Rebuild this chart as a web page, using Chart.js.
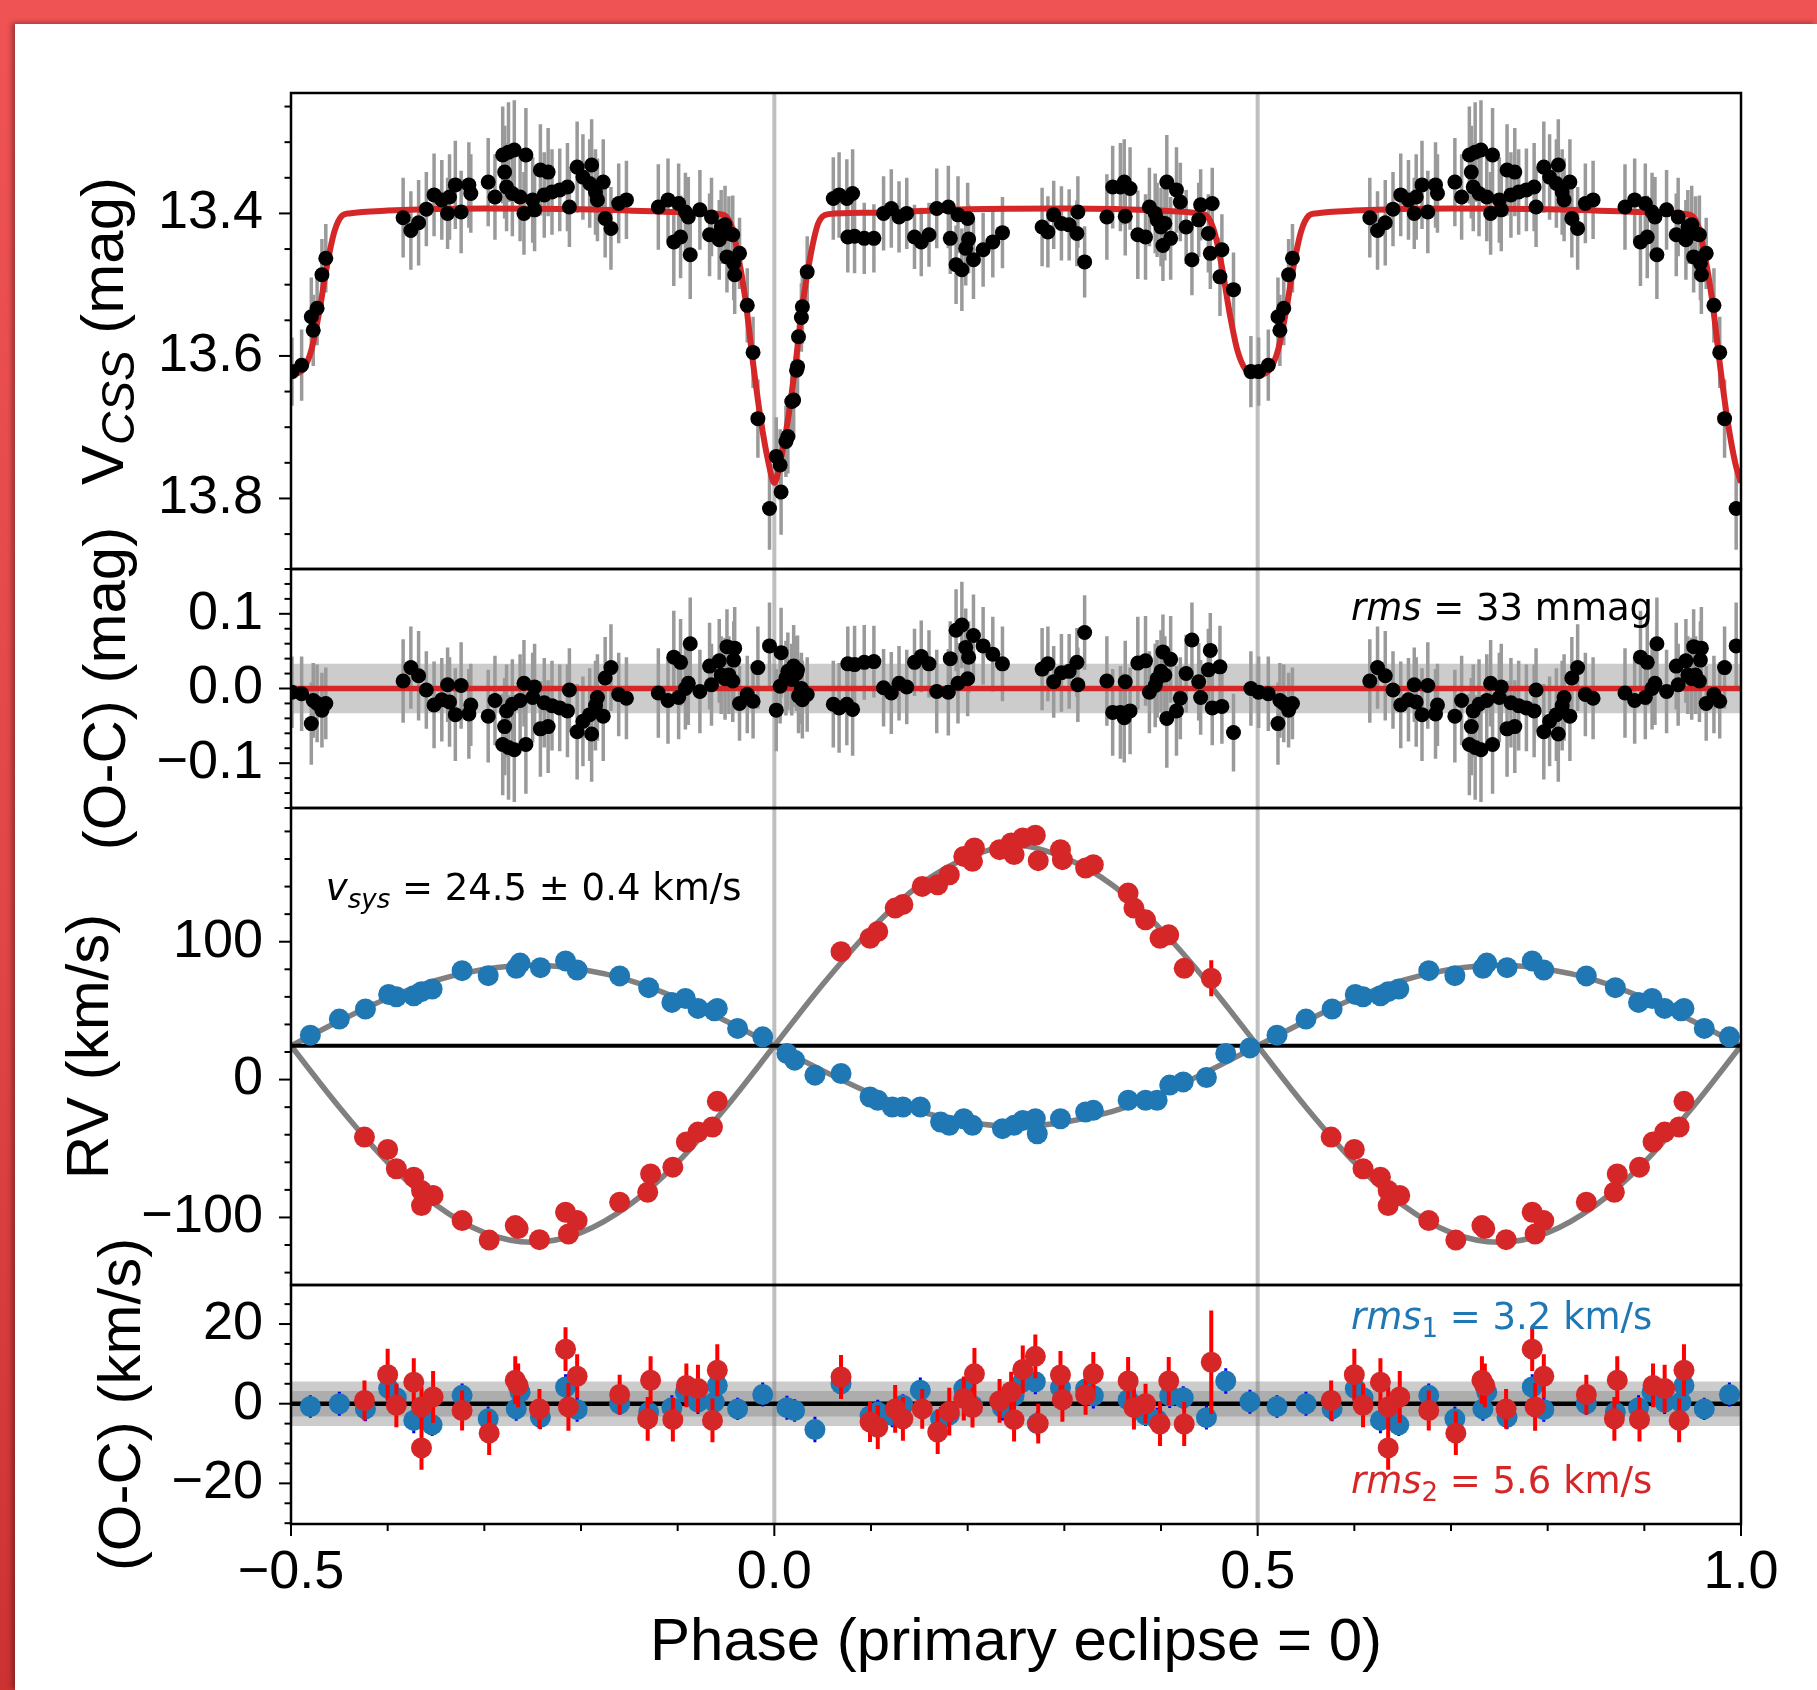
<!DOCTYPE html>
<html>
<head>
<meta charset="utf-8">
<title>Light curve and radial velocities</title>
<script src="https://cdn.jsdelivr.net/npm/chart.js@4.4.1/dist/chart.umd.min.js"></script>
<style>
  html, body { margin: 0; padding: 0; }
  body { width: 1817px; height: 1690px; overflow: hidden; position: relative;
         background: linear-gradient(180deg, #ef5353 0%, #e04646 55%, #cc3232 100%); }
  #sheet { position: absolute; left: 15px; top: 24px; right: 0; bottom: 0; background: #fff;
           box-shadow: -3px -1px 5px rgba(0, 0, 0, 0.35); }
  #plot { position: absolute; left: 0; top: 0; }
</style>
</head>
<body>
<div id="sheet"></div>
<canvas id="plot" width="1817" height="1690"></canvas>
<script>
// ---------- photometry: phase, V mag, error, O-C ----------
const lcPhase = [0.002,0.006,0.007,0.012,0.014,0.018,0.020,0.023,0.024,0.025,
  0.028,0.029,0.034,0.061,0.067,0.075,0.076,0.081,0.083,0.093,
  0.103,0.113,0.121,0.129,0.137,0.145,0.152,0.160,0.168,0.180,
  0.182,0.188,0.190,0.194,0.198,0.200,0.201,0.206,0.216,0.226,
  0.236,0.277,0.283,0.289,0.297,0.305,0.313,0.314,0.321,0.344,
  0.350,0.358,0.362,0.363,0.368,0.376,0.384,0.388,0.394,0.396,
  0.400,0.402,0.404,0.406,0.410,0.416,0.420,0.426,0.432,0.439,
  0.441,0.449,0.451,0.453,0.461,0.463,0.475,0.493,0.501,0.511,
  0.521,0.523,0.527,0.532,0.536,0.616,0.624,0.632,0.640,0.648,
  0.656,0.662,0.664,0.670,0.676,0.684,0.686,0.704,0.711,0.719,
  0.721,0.723,0.725,0.729,0.731,0.737,0.741,0.743,0.750,0.752,
  0.758,0.762,0.766,0.770,0.778,0.786,0.788,0.796,0.802,0.809,
  0.811,0.815,0.817,0.823,0.825,0.831,0.839,0.847,0.880,0.890,
  0.896,0.901,0.903,0.908,0.911,0.913,0.923,0.933,0.935,0.943,
  0.945,0.949,0.951,0.953,0.957,0.958,0.959,0.964,0.972,0.978,
  0.983,0.995];
const lcMag = [13.741,13.753,13.791,13.720,13.713,13.664,13.662,13.620,13.615,13.573,
  13.546,13.531,13.482,13.379,13.374,13.379,13.433,13.372,13.432,13.435,
  13.435,13.400,13.393,13.405,13.400,13.433,13.440,13.430,13.393,13.391,
  13.435,13.472,13.402,13.479,13.449,13.407,13.436,13.465,13.451,13.440,
  13.427,13.419,13.426,13.402,13.414,13.416,13.428,13.398,13.468,13.405,
  13.363,13.363,13.356,13.404,13.365,13.430,13.433,13.391,13.400,13.409,
  13.419,13.445,13.414,13.356,13.435,13.367,13.384,13.419,13.465,13.409,
  13.388,13.428,13.456,13.386,13.489,13.451,13.507,13.622,13.622,13.613,
  13.545,13.564,13.533,13.486,13.463,13.406,13.424,13.413,13.394,13.374,
  13.381,13.400,13.377,13.360,13.398,13.360,13.372,13.356,13.377,13.318,
  13.342,13.363,13.314,13.372,13.311,13.377,13.400,13.318,13.381,13.395,
  13.339,13.374,13.342,13.370,13.367,13.363,13.391,13.335,13.349,13.358,
  13.332,13.370,13.381,13.356,13.407,13.421,13.386,13.381,13.391,13.381,
  13.440,13.386,13.433,13.398,13.405,13.458,13.395,13.430,13.405,13.437,
  13.419,13.416,13.461,13.428,13.430,13.470,13.486,13.456,13.529,13.595,
  13.688,13.814];
const lcErr = [0.055,0.050,0.060,0.050,0.052,0.048,0.055,0.050,0.046,0.050,
  0.048,0.052,0.050,0.058,0.060,0.055,0.050,0.062,0.052,0.050,
  0.048,0.052,0.055,0.050,0.050,0.045,0.048,0.045,0.056,0.058,
  0.050,0.055,0.054,0.058,0.052,0.050,0.048,0.055,0.052,0.050,
  0.050,0.055,0.050,0.048,0.052,0.050,0.046,0.050,0.050,0.060,
  0.058,0.062,0.060,0.055,0.058,0.062,0.060,0.055,0.056,0.052,
  0.055,0.050,0.052,0.066,0.058,0.060,0.055,0.052,0.050,0.052,
  0.050,0.055,0.050,0.050,0.055,0.050,0.052,0.050,0.048,0.050,
  0.055,0.050,0.052,0.050,0.048,0.056,0.055,0.060,0.052,0.058,
  0.056,0.050,0.060,0.062,0.058,0.060,0.055,0.062,0.060,0.068,
  0.065,0.062,0.070,0.060,0.070,0.062,0.058,0.066,0.060,0.058,
  0.064,0.060,0.062,0.060,0.058,0.062,0.056,0.064,0.060,0.062,
  0.064,0.060,0.058,0.060,0.055,0.058,0.056,0.055,0.060,0.058,
  0.062,0.056,0.058,0.055,0.056,0.062,0.056,0.058,0.055,0.056,
  0.052,0.055,0.050,0.052,0.055,0.052,0.055,0.050,0.052,0.050,
  0.055,0.058];
const lcRes = [-0.029,0.003,0.048,0.014,0.023,0.012,0.030,0.020,0.025,-0.010,
  0.000,-0.015,-0.008,-0.021,-0.026,-0.021,0.033,-0.028,0.032,0.035,
  0.036,0.001,-0.006,0.007,0.002,0.035,0.043,0.033,-0.004,-0.005,
  0.040,0.078,0.007,0.085,0.055,0.013,0.042,0.071,0.057,0.046,
  0.033,0.026,0.033,0.009,0.021,0.023,0.035,0.005,0.075,0.010,
  -0.032,-0.032,-0.039,0.009,-0.030,0.034,0.037,-0.005,0.004,0.013,
  0.023,0.049,0.018,-0.040,0.039,-0.030,-0.013,0.020,0.065,0.009,
  -0.012,0.025,0.051,-0.026,0.029,-0.024,-0.059,0.000,-0.005,-0.007,
  -0.047,-0.016,-0.020,-0.029,-0.020,0.010,0.028,0.017,-0.002,-0.022,
  -0.015,0.005,-0.018,-0.035,0.004,-0.034,-0.022,-0.037,-0.016,-0.075,
  -0.051,-0.030,-0.079,-0.021,-0.082,-0.016,0.007,-0.075,-0.012,0.002,
  -0.054,-0.019,-0.051,-0.023,-0.026,-0.030,-0.002,-0.058,-0.044,-0.035,
  -0.061,-0.023,-0.012,-0.037,0.014,0.028,-0.008,-0.013,-0.006,-0.016,
  0.042,-0.012,0.035,0.000,0.007,0.060,-0.004,0.030,0.005,0.037,
  0.018,0.013,0.056,0.018,0.010,0.038,0.054,-0.020,-0.008,-0.017,
  0.028,0.057];

// light curve model
const lcModelPhase = [0.000,0.006,0.014,0.022,0.030,0.038,0.045,0.050,0.056,0.100,
  0.200,0.300,0.400,0.440,0.447,0.455,0.463,0.471,0.479,0.487,
  0.500,0.513,0.521,0.529,0.537,0.545,0.553,0.560,0.600,0.700,
  0.800,0.900,0.944,0.950,0.955,0.962,0.970,0.978,0.986,0.994,1.000];
const lcModelMag = [13.778,13.750,13.690,13.610,13.520,13.455,13.415,13.404,13.401,13.399,
  13.394,13.393,13.396,13.400,13.403,13.425,13.475,13.540,13.592,13.618,
  13.627,13.618,13.592,13.540,13.475,13.425,13.403,13.400,13.396,13.393,
  13.394,13.398,13.401,13.404,13.415,13.455,13.520,13.610,13.690,13.750,13.778];

// ---------- radial velocities (km/s) ----------
const rv1Phase = [0.013,0.021,0.042,0.069,0.099,0.107,0.122,0.133,0.151,0.172,
  0.181,0.196,0.205,0.236,0.248,0.257,0.270,0.272,0.296,0.322,
  0.330,0.366,0.384,0.396,0.409,0.423,0.447,0.467,0.492,0.520,
  0.550,0.577,0.601,0.609,0.627,0.635,0.646,0.677,0.704,0.733,
  0.737,0.758,0.784,0.796,0.840,0.870,0.894,0.908,0.921,0.938,
  0.941,0.962,0.988];
const rv1Vel = [18.9,14.1,3.2,4.4,-12.6,-15.0,-19.9,-19.9,-19.9,-30.8,
  -33.2,-28.4,-33.2,-35.6,-33.2,-29.6,-28.4,-39.3,-28.4,-23.5,
  -22.3,-15.0,-15.0,-15.0,-4.0,-1.7,1.5,18.9,23.0,32.2,
  43.9,51.2,61.8,60.1,60.8,63.8,65.7,79.0,75.4,80.7,
  84.5,81.2,86.1,79.5,75.2,66.7,56.0,58.9,51.6,49.9,
  51.6,37.1,31.0];
const rv1Res = [-1.0,-1.7,-6.5,5.0,-3.0,-2.1,-2.9,-0.4,3.4,-3.8,
  -2.8,3.8,-0.5,-1.0,2.0,5.5,5.5,-5.0,4.0,3.7,
  2.0,1.0,-2.8,-4.0,2.0,1.5,-3.5,5.7,0.5,-0.7,
  0.0,-1.3,3.8,1.5,-4.2,-2.5,-5.3,2.1,-3.8,-1.3,
  2.9,-3.4,4.2,-1.5,0.0,-2.1,-1.0,2.9,0.4,0.4,
  4.6,-1.3,2.3];
const rv1Err = [3.0,2.8,3.2,3.0,2.9,3.1,3.0,2.8,3.2,3.0,
  3.1,2.9,3.0,3.2,2.8,3.0,3.1,3.0,2.9,3.0,
  3.2,3.0,2.8,3.0,3.1,2.9,3.0,3.2,3.0,2.8,
  3.0,3.1,2.9,3.0,3.2,3.0,2.8,3.0,3.1,3.0,
  2.9,3.0,3.2,3.0,2.8,3.0,3.1,2.9,3.0,3.2,
  3.0,2.8,3.0];

const rv2Phase = [0.069,0.099,0.107,0.125,0.133,0.153,0.169,0.181,0.196,0.205,
  0.207,0.233,0.245,0.248,0.257,0.270,0.273,0.296,0.298,0.322,
  0.330,0.366,0.372,0.384,0.399,0.408,0.424,0.452,0.576,0.600,
  0.609,0.627,0.635,0.635,0.647,0.677,0.705,0.732,0.735,0.757,
  0.784,0.787,0.796,0.840,0.869,0.872,0.895,0.909,0.921,0.936,
  0.941];
const rv2Vel = [92.8,102.5,107.4,124.4,127.0,140.1,141.3,148.6,161.9,158.3,
  168.0,166.8,171.6,163.2,175.3,177.2,158.8,166.8,159.5,153.5,
  155.9,135.3,124.4,115.9,102.5,105.0,80.7,73.5,-41.7,-50.7,
  -64.7,-70.8,-80.5,-91.4,-84.1,-102.3,-116.4,-105.9,-108.0,-116.1,
  -96.2,-112.0,-102.3,-89.0,-81.7,-68.4,-63.5,-45.3,-38.1,-34.4,
  -15.8];
const rv2Res = [6.7,-4.6,-5.9,-1.3,-3.8,-1.3,-7.1,-2.0,1.3,-1.0,
  7.5,0.7,3.0,-4.0,8.6,11.9,-5.0,7.2,1.0,2.2,
  7.5,5.7,-1.0,0.0,-5.1,5.7,-5.1,10.4,0.8,7.3,
  -0.4,5.4,-0.8,-11.1,1.7,-1.7,-7.4,5.9,4.6,-1.3,
  13.7,-0.8,6.9,2.3,-3.8,5.9,-4.0,4.6,3.8,-4.2,
  8.4];
const rv2Err = [5.5,5.0,5.5,6.0,5.5,5.0,5.5,6.0,5.5,5.0,
  6.5,5.5,5.0,5.5,6.0,5.5,5.0,6.0,5.5,5.0,
  5.5,6.0,5.5,5.0,5.5,6.0,5.5,13.0,5.0,6.5,
  5.5,6.0,5.0,5.5,6.5,5.0,5.5,6.0,5.5,5.0,
  5.5,6.0,5.5,5.0,5.5,6.0,5.5,5.5,6.0,5.5,
  6.5];

// orbit model
const rvModelPhase = [0,0.05,0.10,0.15,0.20,0.25,0.30,0.35,0.40,0.45,0.50,
  0.55,0.60,0.65,0.70,0.75,0.80,0.85,0.90,0.95,1.00];
const rv1Model = [24.5,6.5,-10,-23,-31,-34,-31,-23,-10,6.5,24.5,
  42.5,59,72,80,83,80,72,59,42.5,24.5];
const rv2Model = [24.5,69,109,141,161,170,161,141,109,69,24.5,
  -20,-60,-91,-111,-118,-111,-91,-60,-20,24.5];

const vSys = 24.5, vSysErr = 0.4;
const rmsLc = 0.033;           // mag
const rms1 = 3.2, rms2 = 5.6;  // km/s
const eclipsePhases = [0, 0.5];

// ticks
const phaseTicks = [-0.5, 0, 0.5, 1.0];
const lcTicks = [13.4, 13.6, 13.8];
const oc1Ticks = [-0.1, 0, 0.1];
const rvTicks = [-100, 0, 100];
const oc2Ticks = [-20, 0, 20];

// ---------- helpers ----------
const labelFamily = '"Liberation Sans", Arial, Helvetica, sans-serif';
const mathFamily = '"DejaVu Sans", sans-serif';
const blue = '#1f77b4', red = '#d62728';

const fmt = (v, d) => (v < 0 ? '\u2212' : '') + Math.abs(v).toFixed(d);

// every point in 0.5..1 is repeated one cycle earlier
function fold(phases, fn) {
  const out = [];
  phases.forEach((p, i) => {
    out.push(fn(p, i));
    if (p >= 0.5) out.push(fn(p - 1, i));
  });
  return out;
}
const pts = (ph, ys) => fold(ph, (p, i) => ({x: p, y: ys[i]}));
const bars = (ph, ys, es) => fold(ph, (p, i) => [
  {x: p, y: ys[i] - es[i]}, {x: p, y: ys[i] + es[i]}, {x: p, y: null}]).flat();
const curve = (ph, ys) => pts(ph, ys).sort((a, b) => a.x - b.x)
  .filter((d, i, arr) => i === 0 || d.x !== arr[i - 1].x);
const hline = y => [{x: -0.5, y}, {x: 1.0, y}];

const dotSet = (data, axis, color, r, order) => ({
  type: 'scatter', data, yAxisID: axis, order,
  pointRadius: r, pointHoverRadius: r, pointBackgroundColor: color, pointBorderWidth: 0
});
const lineSet = (data, axis, color, w, order, extra) => Object.assign({
  type: 'line', data, yAxisID: axis, order, borderColor: color, borderWidth: w,
  pointRadius: 0, pointHoverRadius: 0, spanGaps: false, tension: 0, fill: false,
  borderCapStyle: 'butt'
}, extra || {});
const bandSet = (axis, half, order) => ({
  type: 'line', data: hline(half), yAxisID: axis, order, borderWidth: 0,
  pointRadius: 0, backgroundColor: 'rgba(128,128,128,0.4)', fill: {value: -half}
});
const smooth = {cubicInterpolationMode: 'monotone'};

const datasets = [
  // light curve
  lineSet(bars(lcPhase, lcMag, lcErr), 'lc', '#9a9a9a', 3.5, 30),
  lineSet(curve(lcModelPhase, lcModelMag), 'lc', red, 6, 20, smooth),
  dotSet(pts(lcPhase, lcMag), 'lc', '#000000', 7.5, 10),
  // photometric residuals
  bandSet('oc1', rmsLc, 40),
  lineSet(bars(lcPhase, lcRes, lcErr), 'oc1', '#9a9a9a', 3.5, 30),
  lineSet(hline(0), 'oc1', red, 5.5, 20),
  dotSet(pts(lcPhase, lcRes), 'oc1', '#000000', 7.5, 10),
  // radial velocities
  lineSet(curve(rvModelPhase, rv1Model), 'rv', '#808080', 5.5, 30, smooth),
  lineSet(curve(rvModelPhase, rv2Model), 'rv', '#808080', 5.5, 30, smooth),
  lineSet(hline(vSys), 'rv', '#000000', 4, 25),
  lineSet(bars(rv1Phase, rv1Vel, rv1Err), 'rv', '#0000ff', 3, 16),
  dotSet(pts(rv1Phase, rv1Vel), 'rv', blue, 10.5, 15),
  lineSet(bars(rv2Phase, rv2Vel, rv2Err), 'rv', '#ff0000', 4, 12),
  dotSet(pts(rv2Phase, rv2Vel), 'rv', red, 10.5, 11),
  // velocity residuals
  bandSet('oc2', rms2, 41),
  bandSet('oc2', rms1, 40),
  lineSet(hline(0), 'oc2', '#000000', 4.5, 25),
  lineSet(bars(rv1Phase, rv1Res, rv1Err), 'oc2', '#0000ff', 3, 16),
  dotSet(pts(rv1Phase, rv1Res), 'oc2', blue, 10.5, 15),
  lineSet(bars(rv2Phase, rv2Res, rv2Err), 'oc2', '#ff0000', 4, 12),
  dotSet(pts(rv2Phase, rv2Res), 'oc2', red, 10.5, 11)
];

const yAxis = o => ({
  type: 'linear', position: 'left', stack: 'panels', stackWeight: o.h, weight: o.w,
  min: o.min, max: o.max, reverse: !!o.reverse,
  grid: {display: false, drawTicks: false}, border: {display: false},
  afterBuildTicks: s => { s.ticks = o.ticks.map(value => ({value})); },
  afterFit: s => { s.width = 291; },
  ticks: {autoSkip: false, padding: 28, color: '#000',
          font: {family: labelFamily, size: 54}, callback: v => fmt(v, o.dec)}
});

// panel decorations: minor ticks, axis titles
const panels = [
  {id: 'lc', majors: lcTicks, step: 0.05, titleX: 123, title: [
    {text: 'V', font: `60px ${labelFamily}`},
    {text: 'CSS', font: `italic 46px ${labelFamily}`, dy: 11},
    {text: ' (mag)', font: `60px ${labelFamily}`}]},
  {id: 'oc1', majors: oc1Ticks, step: 0.02, titleX: 125, title: [
    {text: '(O-C) (mag)', font: `60px ${labelFamily}`}]},
  {id: 'rv', majors: rvTicks, step: 20, titleX: 108, title: [
    {text: 'RV (km/s)', font: `60px ${labelFamily}`}]},
  {id: 'oc2', majors: oc2Ticks, step: 5, titleX: 140, title: [
    {text: '(O-C) (km/s)', font: `60px ${labelFamily}`}]}
];

const mItal = `italic 37px ${mathFamily}`, mReg = `37px ${mathFamily}`, mSub = `26px ${mathFamily}`;
const notes = [
  {panel: 'oc1', fx: 0.731, fy: 0.213, color: '#000000', runs: [
    {text: 'rms', font: mItal}, {text: ` = ${Math.round(rmsLc * 1000)} mmag`, font: mReg}]},
  {panel: 'rv', fx: 0.024, fy: 0.193, color: '#000000', runs: [
    {text: 'v', font: mItal}, {text: 'sys', font: `italic 26px ${mathFamily}`, dy: 8},
    {text: ` = ${vSys.toFixed(1)} \u00b1 ${vSysErr.toFixed(1)} km/s`, font: mReg}]},
  {panel: 'oc2', fx: 0.731, fy: 0.184, color: blue, runs: [
    {text: 'rms', font: mItal}, {text: '1', font: mSub, dy: 8},
    {text: ` = ${rms1.toFixed(1)} km/s`, font: mReg}]},
  {panel: 'oc2', fx: 0.731, fy: 0.870, color: red, runs: [
    {text: 'rms', font: mItal}, {text: '2', font: mSub, dy: 8},
    {text: ` = ${rms2.toFixed(1)} km/s`, font: mReg}]}
];

function runsWidth(ctx, runs) {
  return runs.reduce((w, r) => { ctx.font = r.font; return w + ctx.measureText(r.text).width; }, 0);
}
function drawRuns(ctx, runs, x, y) {
  let cx = x;
  for (const r of runs) {
    ctx.font = r.font;
    ctx.fillText(r.text, cx, y + (r.dy || 0));
    cx += ctx.measureText(r.text).width;
  }
}

const decor = {
  id: 'decor',
  beforeDatasetsDraw(chart) {
    const {ctx, chartArea, scales} = chart;
    ctx.save();
    ctx.strokeStyle = '#bfbfbf';
    ctx.lineWidth = 4;
    eclipsePhases.forEach(p => {
      const px = scales.x.getPixelForValue(p);
      ctx.beginPath();
      ctx.moveTo(px, chartArea.top);
      ctx.lineTo(px, chartArea.bottom);
      ctx.stroke();
    });
    ctx.restore();
  },
  afterDraw(chart) {
    const {ctx, chartArea, scales} = chart;
    const left = chartArea.left, width = chartArea.right - chartArea.left;
    ctx.save();
    ctx.strokeStyle = '#000';
    ctx.fillStyle = '#000';

    panels.forEach(p => {
      const s = scales[p.id];
      // frame
      ctx.lineWidth = 2.5;
      ctx.strokeRect(left, s.top, width, s.bottom - s.top);
      // tick marks, outward
      ctx.lineWidth = 2;
      const lo = Math.min(s.min, s.max), hi = Math.max(s.min, s.max);
      for (let k = Math.ceil(lo / p.step - 1e-6); k * p.step <= hi + 1e-9; k++) {
        const v = k * p.step;
        const major = p.majors.some(m => Math.abs(m - v) < p.step * 0.01);
        const py = s.getPixelForValue(v);
        ctx.beginPath();
        ctx.moveTo(left - (major ? 12 : 6.5), py);
        ctx.lineTo(left, py);
        ctx.stroke();
      }
      // axis title
      ctx.save();
      ctx.translate(p.titleX, (s.top + s.bottom) / 2);
      ctx.rotate(-Math.PI / 2);
      ctx.textBaseline = 'alphabetic';
      ctx.textAlign = 'left';
      drawRuns(ctx, p.title, -runsWidth(ctx, p.title) / 2, 0);
      ctx.restore();
    });

    // phase ticks under the bottom panel
    const xs = scales.x;
    ctx.lineWidth = 2;
    for (let k = -5; k <= 10; k++) {
      const v = k / 10;
      const major = phaseTicks.some(m => Math.abs(m - v) < 1e-6);
      const px = xs.getPixelForValue(v);
      ctx.beginPath();
      ctx.moveTo(px, chartArea.bottom);
      ctx.lineTo(px, chartArea.bottom + (major ? 12 : 7));
      ctx.stroke();
    }

    // annotations
    ctx.textBaseline = 'alphabetic';
    ctx.textAlign = 'left';
    notes.forEach(n => {
      const s = scales[n.panel];
      ctx.fillStyle = n.color;
      drawRuns(ctx, n.runs, left + n.fx * width, s.top + n.fy * (s.bottom - s.top));
    });
    ctx.restore();
  }
};

new Chart(document.getElementById('plot'), {
  type: 'scatter',
  data: {datasets},
  options: {
    responsive: false,
    animation: false,
    events: [],
    layout: {padding: {top: 93, right: 76, bottom: 0, left: 0}},
    plugins: {legend: {display: false}, tooltip: {enabled: false}},
    scales: {
      x: {
        type: 'linear', position: 'bottom', min: -0.5, max: 1.0,
        grid: {display: false, drawTicks: false}, border: {display: false},
        afterBuildTicks: s => { s.ticks = phaseTicks.map(value => ({value})); },
        afterFit: s => { s.height = 166; },
        ticks: {autoSkip: false, maxRotation: 0, padding: 17, color: '#000',
                font: {family: labelFamily, size: 54}, callback: v => fmt(v, 1)},
        title: {display: true, text: 'Phase (primary eclipse = 0)', color: '#000',
                font: {family: labelFamily, size: 60}, padding: {top: 0, bottom: 11}}
      },
      oc2: yAxis({h: 239, w: 1, min: -30.2, max: 29.8, ticks: oc2Ticks, dec: 0}),
      rv: yAxis({h: 477, w: 2, min: -149, max: 197, ticks: rvTicks, dec: 0}),
      oc1: yAxis({h: 239, w: 3, min: -0.16, max: 0.16, ticks: oc1Ticks, dec: 1}),
      lc: yAxis({h: 476, w: 4, min: 13.231, max: 13.899, reverse: true, ticks: lcTicks, dec: 1})
    }
  },
  plugins: [decor]
});
</script>
</body>
</html>
